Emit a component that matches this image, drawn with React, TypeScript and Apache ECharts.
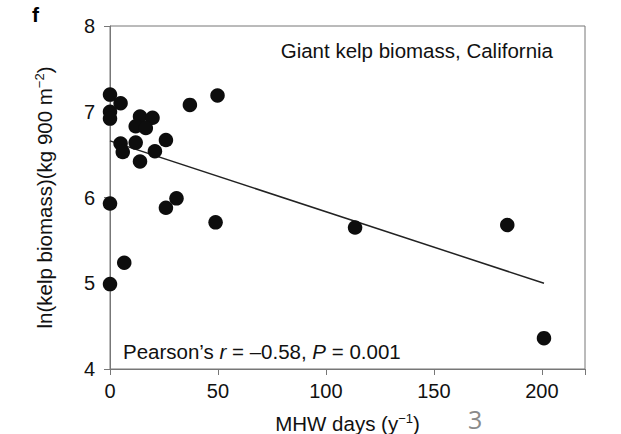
import React, { useEffect, useRef } from "react";
import * as echarts from "echarts";

const mhwDays = [0, 4.9, 0, 0, 37, 49.8, 13.9, 19.7, 11.9, 16.6, 25.9, 4.9, 11.9, 5.9, 20.8, 13.9, 0, 30.8, 25.9, 48.9, 6.6, 0, 113.5, 184, 201];
const lnBiomass = [7.2, 7.1, 7.0, 6.92, 7.08, 7.19, 6.945, 6.93, 6.83, 6.81, 6.67, 6.63, 6.64, 6.53, 6.54, 6.42, 5.93, 5.99, 5.88, 5.71, 5.24, 4.99, 5.65, 5.68, 4.36];
const fitX = [0, 201];
const fitY = [6.66, 5.0];
const xTicks = [0, 50, 100, 150, 200];
const yTicks = [4, 5, 6, 7, 8];

const FONT = "'Liberation Sans', Arial, Helvetica, sans-serif";

export default function App() {
  const ref = useRef<HTMLDivElement>(null);
  useEffect(() => {
    const chart = echarts.init(ref.current!, null, { renderer: "svg" });
    const points = mhwDays.map((x, i) => [x, lnBiomass[i]]);
    const fit = fitX.map((x, i) => [x, fitY[i]]);
    const sup = { fontSize: 13, verticalAlign: "top", padding: [0, 0, 9, 0], fontFamily: FONT, color: "#111" };
    chart.setOption({
      animation: false,
      backgroundColor: "#fff",
      textStyle: { fontFamily: FONT },
      grid: {
        left: 110,
        right: 36,
        top: 26,
        bottom: 65,
        show: true,
        borderColor: "#777",
        borderWidth: 1,
        containLabel: false,
        outerBoundsMode: "none",
      },
      xAxis: {
        type: "value",
        min: 0,
        max: 220,
        interval: 50,
        axisLine: { show: true, lineStyle: { color: "#777" } },
        axisTick: { show: true, length: 6, lineStyle: { color: "#777" }, customValues: [...xTicks, 220] },
        axisLabel: {
          color: "#111",
          fontSize: 20,
          margin: 12,
          fontFamily: FONT,
          customValues: xTicks,
        },
        splitLine: { show: false },
        name: "MHW days (y{sup|−1})",
        nameLocation: "middle",
        nameGap: 43,
        nameTextStyle: {
          color: "#111",
          fontSize: 20.5,
          fontFamily: FONT,
          rich: { sup },
        },
      },
      yAxis: {
        type: "value",
        min: 4,
        max: 8,
        interval: 1,
        axisLine: { show: true, lineStyle: { color: "#777" } },
        axisTick: { show: true, length: 6, lineStyle: { color: "#777" } },
        axisLabel: { color: "#111", fontSize: 20, margin: 15, fontFamily: FONT, customValues: yTicks },
        splitLine: { show: false },
        name: "ln(kelp biomass)(kg 900 m{sup|−2})",
        nameLocation: "middle",
        nameRotate: 90,
        nameGap: 55,
        nameTextStyle: {
          color: "#111",
          fontSize: 20.5,
          fontFamily: FONT,
          rich: { sup },
        },
      },
      series: [
        {
          type: "line",
          data: fit,
          symbol: "none",
          lineStyle: { color: "#222", width: 1.5 },
          z: 2,
        },
        {
          type: "scatter",
          data: points,
          symbolSize: 14.5,
          itemStyle: { color: "#0d0d0d", opacity: 1 },
          z: 3,
        },
      ],
      graphic: [
        {
          type: "text",
          left: 32,
          top: 4,
          style: { text: "f", font: `bold 21px ${FONT}`, fill: "#000" },
        },
        {
          type: "text",
          right: 68,
          top: 40,
          style: { text: "Giant kelp biomass, California", font: `20.5px ${FONT}`, fill: "#111" },
        },
        {
          type: "text",
          left: 123,
          top: 341,
          style: {
            text: "Pearson’s {i|r} = –0.58, {i|P} = 0.001",
            font: `20.5px ${FONT}`,
            fill: "#111",
            rich: { i: { fontStyle: "italic", fontSize: 20.5, fontFamily: FONT, fill: "#111" } },
          },
        },
        {
          type: "text",
          left: 468,
          top: 406,
          style: { text: "3", font: `25px 'Open Sans', ${FONT}`, lineHeight: 20, fill: "#8a8a8a" },
        },
      ],
    });
    return () => chart.dispose();
  }, []);
  return <div ref={ref} style={{ width: 621, height: 434, position: "absolute", left: 0, top: 0 }} />;
}
